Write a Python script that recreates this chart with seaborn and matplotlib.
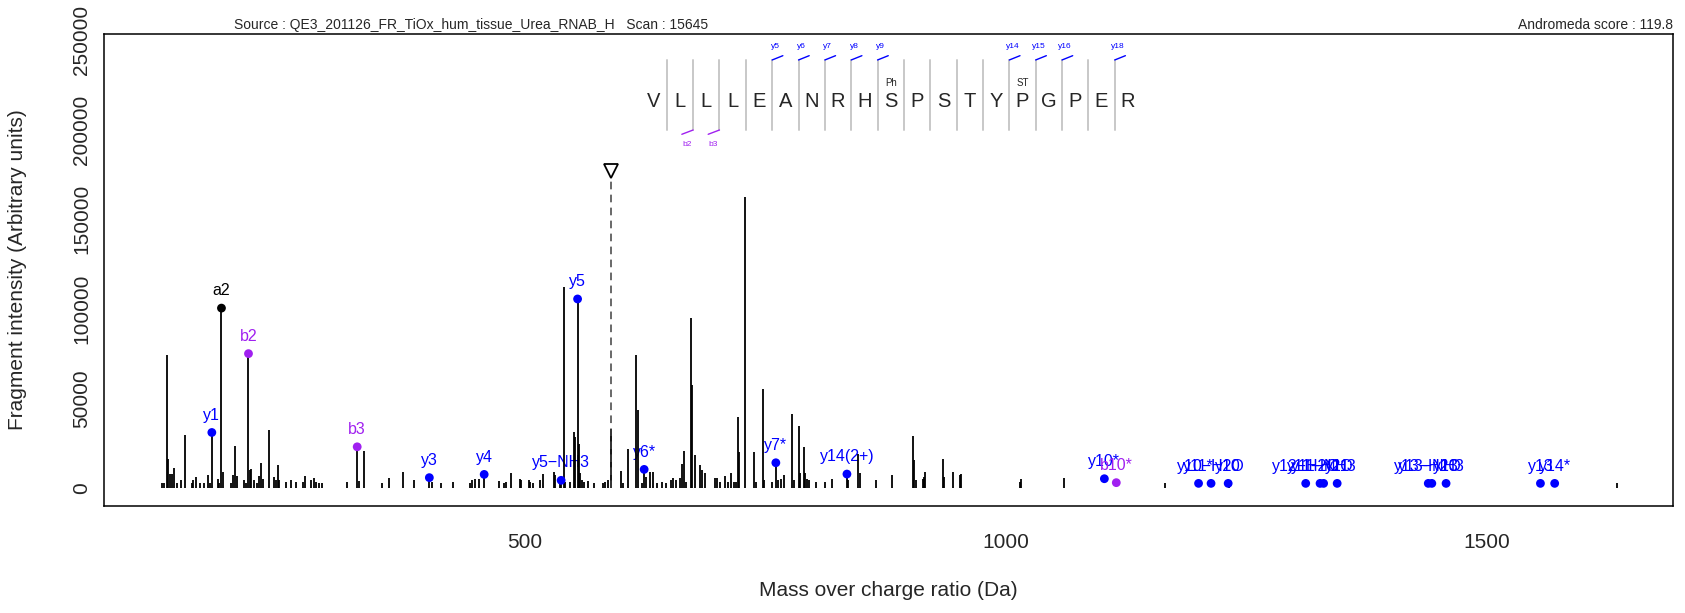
import numpy as np
import pandas as pd
import matplotlib.pyplot as plt
import seaborn as sns

# peak list (m/z, intensity)
peak_mz = [123.1, 125.5, 129.0, 130.0, 131.7, 133.5, 135.9, 138.7, 142.8, 147.3,
           154.3, 156.0, 158.8, 162.9, 167.1, 170.9, 173.3, 175.1, 181.0, 183.0,
           185.1, 186.5, 194.8, 196.9, 199.0, 201.1, 208.7, 210.8, 213.2, 214.9,
           216.3, 219.1, 221.9, 224.6, 226.7, 228.8, 234.3, 239.2, 241.3, 244.0,
           245.4, 251.7, 257.9, 262.1, 269.7, 272.1, 278.0, 280.8, 283.5, 286.3,
           289.4, 315.4, 326.2, 327.6, 333.1, 352.5, 359.1, 373.3, 385.4, 401.2,
           404.2, 413.5, 425.3, 443.7, 445.7, 448.9, 452.3, 458.2, 473.5, 478.3,
           481.1, 486.6, 495.0, 496.5, 504.3, 505.9, 508.8, 516.4, 519.2, 531.0,
           532.3, 536.5, 538.2, 541.0, 542.7, 547.5, 551.4, 552.8, 555.3, 556.6,
           557.9, 560.1, 562.1, 566.6, 572.5, 581.5, 584.0, 586.4, 589.9, 600.6,
           602.3, 607.2, 616.2, 617.6, 622.5, 624.5, 626.6, 630.1, 633.5, 637.7,
           642.9, 646.7, 652.3, 655.0, 657.1, 661.3, 664.0, 665.4, 667.5, 673.0,
           674.1, 677.2, 682.1, 684.8, 687.9, 698.0, 700.1, 703.5, 708.4, 711.9,
           714.6, 717.4, 719.8, 721.6, 722.9, 729.5, 738.5, 740.3, 748.3, 749.6,
           757.9, 761.4, 763.8, 766.6, 769.7, 778.7, 780.5, 785.3, 786.8, 790.2,
           792.0, 793.7, 795.7, 802.7, 812.1, 819.7, 835.3, 836.7, 846.8, 848.5,
           865.8, 882.5, 903.6, 905.0, 906.7, 914.0, 915.4, 916.8, 934.8, 936.0,
           945.9, 953.2, 954.2, 1014.8, 1016.6, 1061.3, 1165.5, 1232.3, 1635.3]
peak_int = [2800, 2800, 74400, 16200, 8000, 8000, 11200, 2800, 4300, 29800,
            2800, 4300, 6100, 2800, 2800, 7400, 2800, 31000, 5000, 2800,
            100400, 9100, 2800, 7100, 23200, 6500, 4300, 2800, 75000, 10200,
            10600, 4600, 2800, 6900, 14000, 5000, 32500, 6100, 4600, 12800,
            4600, 3200, 4600, 3200, 3200, 6900, 4600, 5600, 3200, 2800,
            2800, 3200, 23000, 3700, 20500, 2800, 5600, 9100, 4300, 5800,
            3200, 2800, 3200, 2800, 4300, 5000, 5000, 7600, 3700, 2800,
            3200, 8400, 5000, 4500, 4500, 3500, 2600, 4500, 7800, 9100,
            7300, 3500, 4300, 112300, 3500, 3500, 31000, 28600, 105500, 24500,
            8200, 4500, 3500, 3900, 2600, 3000, 3500, 4500, 32700, 9700,
            2600, 21600, 74200, 43500, 2600, 10400, 6300, 9100, 9100, 2600,
            3500, 2600, 4500, 5400, 4500, 5400, 13400, 20800, 3500, 94700,
            57500, 18200, 12800, 10000, 8200, 5400, 5400, 3500, 6700, 3500,
            8200, 3500, 3500, 39800, 20300, 162600, 20300, 3500, 55100, 4500,
            3500, 14100, 4500, 4800, 7000, 41100, 4500, 34600, 8200, 23000,
            8200, 4800, 4500, 3500, 3500, 4800, 7800, 4500, 19000, 8200,
            4500, 7300, 29200, 15600, 4500, 4800, 6300, 8900, 16000, 6300,
            8900, 7300, 7600, 3500, 4800, 5800, 3000, 1500, 3000]

# matched fragment ions
ion_label = ["y1", "a2", "b2", "b3", "y3", "y4", "y5\u2212NH3", "y5", "y6*", "y7*",
             "y14(2+)", "y10*", "b10*", "y11*", "y10\u2212H2O", "y10", "y12\u2212H2O",
             "y11\u2212H2O", "y11\u2212NH3", "y11", "y13\u2212H2O", "y13\u2212NH3", "y13",
             "y13", "y14*"]
ion_mz = [175.1, 185.1, 213.2, 326.2, 401.2, 458.2, 538.2, 555.3, 624.5, 761.4,
          835.3, 1102.9, 1115.3, 1200.8, 1213.8, 1231.6, 1312.2,
          1327.1, 1330.8, 1344.9, 1439.6, 1443.3, 1458.1, 1556.2, 1571.0]
ion_int = [31000, 100400, 75000, 23000, 5800, 7600, 4300, 105500, 10400, 14100,
           7800, 5200, 3000, 2600, 2600, 2600, 2600,
           2600, 2600, 2600, 2600, 2600, 2600, 2600, 2600]
ion_kind = ["y", "a", "b", "b", "y", "y", "y", "y", "y", "y",
            "y", "y", "b", "y", "y", "y", "y",
            "y", "y", "y", "y", "y", "y", "y", "y"]

precursor_mz = 590.0
precursor_int = 177000

sequence = list("VLLLEANRHSPSTYPGPER")
mods = {9: "Ph", 14: "ST"}
y_breaks = [5, 6, 7, 8, 9, 14, 15, 16, 18]
b_breaks = [2, 3]

source_txt = "Source : QE3_201126_FR_TiOx_hum_tissue_Urea_RNAB_H   Scan : 15645"
score_txt = "Andromeda score : 119.8"

colors = {"y": "#0000FF", "b": "#A020F0", "a": "#000000"}

sns.set_style("white")
plt.rcParams['font.family'] = ['Liberation Sans', 'DejaVu Sans']

fig = plt.figure(figsize=(16.85, 6.13), dpi=100)
ax = fig.add_axes([104/1685, 1 - 505.5/613, 1569/1685, 471.5/613])

ions = pd.DataFrame({"label": ion_label, "mz": ion_mz, "intensity": ion_int, "kind": ion_kind})

# labels first so the peaks run over them like in the original
for _, r in ions.iterrows():
    ax.annotate(r["label"], (r["mz"], r["intensity"]), xytext=(0, 12.5),
                textcoords="offset points", ha="center", va="center",
                fontsize=11.5, color=colors[r["kind"]], zorder=2)

ax.vlines(peak_mz, 0, peak_int, color="black", lw=1.3, zorder=3)
sns.scatterplot(data=ions, x="mz", y="intensity", hue="kind", palette=colors,
                s=40, linewidth=0, legend=False, ax=ax, zorder=4)

# precursor
ax.vlines(precursor_mz, 0, precursor_int - 3500, color="#404040", lw=1.1,
          linestyles=[(0, (5, 3.5))], zorder=3)
ax.plot(precursor_mz, precursor_int, marker="v", ms=9.5, mfc="white", mec="black",
        mew=1.3, zorder=5)

# sequence coverage
tr = ax.transAxes
x0, step = 0.35029, 0.016794
for i, aa in enumerate(sequence):
    ax.text(x0 + i*step, 0.8564, aa, fontsize=14.5, ha="center", va="center", transform=tr)
    if i in mods:
        ax.text(x0 + i*step, 0.8954, mods[i], fontsize=7, ha="center", va="center", transform=tr)
for k in range(1, len(sequence)):
    xl = x0 + (k - 0.5)*step
    ax.plot([xl, xl], [0.7964, 0.9449], color="#C8C8C8", lw=1.4, transform=tr)
for k in y_breaks:
    xl = x0 + (k - 0.5)*step
    ax.plot([xl, xl + 0.0068], [0.9449, 0.9540], color=colors["y"], lw=1, transform=tr)
    ax.text(xl + 0.0019, 0.9745, f"y{k}", fontsize=6, color=colors["y"],
            ha="center", va="center", transform=tr)
for k in b_breaks:
    xl = x0 + (k - 0.5)*step
    ax.plot([xl, xl - 0.0072], [0.7964, 0.7873], color=colors["b"], lw=1, transform=tr)
    ax.text(xl - 0.0038, 0.7661, f"b{k}", fontsize=6, color=colors["b"],
            ha="center", va="center", transform=tr)

ax.set_xlim(63, 1694)
ax.set_ylim(-9744, 253344)
ax.set_xticks([500, 1000, 1500])
ax.set_xticklabels(["500", "1000", "1500"], fontsize=15)
yt = [0, 50000, 100000, 150000, 200000, 250000]
ax.set_yticks(yt)
ax.set_yticklabels([str(v) for v in yt], fontsize=15, rotation=90, va="center")
ax.tick_params(axis="both", length=8.6, width=1.1, direction="out", color="black")
ax.tick_params(axis="x", pad=11)
ax.tick_params(axis="y", pad=0.5)
ax.set_xlabel("")
ax.set_ylabel("")
for s in ax.spines.values():
    s.set_color("black")
    s.set_linewidth(1.1)

fig.text(888.5/1685, 1 - 591/613, "Mass over charge ratio (Da)", fontsize=15,
         ha="center", va="center")
fig.text(18/1685, 1 - 270/613, "Fragment intensity (Arbitrary units)", fontsize=15,
         ha="center", va="center", rotation=90)
fig.text(234/1685, 1 - 25/613, source_txt, fontsize=10, ha="left", va="center")
fig.text(1673/1685, 1 - 25/613, score_txt, fontsize=10, ha="right", va="center")

plt.savefig("out.png", dpi=100)
